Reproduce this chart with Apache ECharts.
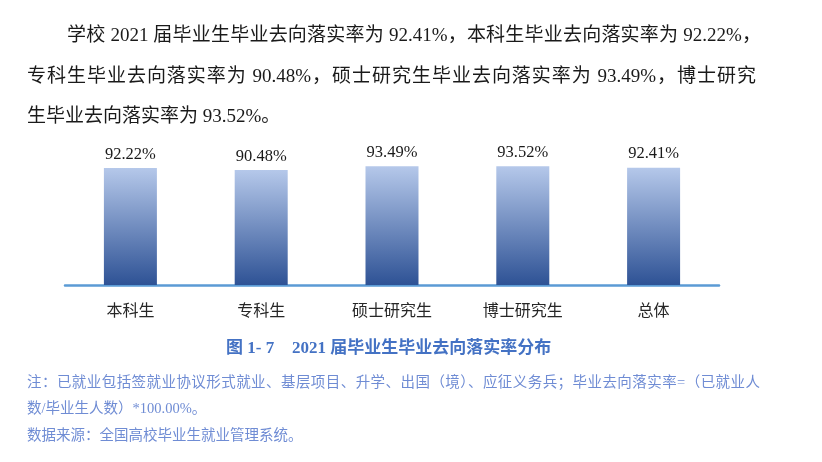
<!DOCTYPE html>
<html>
<head>
<meta charset="utf-8">
<script src="https://cdn.jsdelivr.net/npm/echarts@6/dist/echarts.min.js"></script>
<style>
  html, body { margin:0; padding:0; background:#fff; }
  #wrap { position:relative; width:822px; height:462px; overflow:hidden; }
  #chart { position:absolute; left:0; top:0; width:822px; height:462px; }
  .t { position:absolute; white-space:nowrap; }
  .para { font-family:"Liberation Serif","Noto Sans CJK SC",serif; font-size:19px; color:#1a1a1a; line-height:24px; }
  .just { text-align:justify; text-align-last:justify; }
  .cap { font-family:"Liberation Serif","Noto Sans CJK SC",serif; font-size:17px; font-weight:bold; color:#4472c4; line-height:20px; }
  .note { font-family:"Liberation Serif","Noto Sans CJK SC",serif; font-size:14.5px; color:#6f8cd4; line-height:18px; }
</style>
</head>
<body>
<div id="wrap">
  <div id="chart"></div>
  <div class="t para just" style="left:67px; top:23px; width:694px;">学校 2021 届毕业生毕业去向落实率为 92.41%，本科生毕业去向落实率为 92.22%，</div>
  <div class="t para just" style="left:27px; top:64px; width:729px;">专科生毕业去向落实率为 90.48%，硕士研究生毕业去向落实率为 93.49%，博士研究</div>
  <div class="t para" style="left:27px; top:104px;">生毕业去向落实率为 93.52%。</div>
  <div class="t cap" style="left:226px; top:338px;">图 1- 7</div>
  <div class="t cap" style="left:292px; top:338px;">2021 届毕业生毕业去向落实率分布</div>
  <div class="t note just" style="left:27px; top:373px; width:733px;">注：已就业包括签就业协议形式就业、基层项目、升学、出国（境）、应征义务兵；毕业去向落实率=（已就业人</div>
  <div class="t note" style="left:27px; top:399px;">数/毕业生人数）*100.00%。</div>
  <div class="t note" style="left:27px; top:426px;">数据来源：全国高校毕业生就业管理系统。</div>
</div>
<script>
var categories = ["本科生", "专科生", "硕士研究生", "博士研究生", "总体"];
var rates = [92.22, 90.48, 93.49, 93.52, 92.41];

var chart = echarts.init(document.getElementById('chart'), null, { renderer: 'canvas' });
chart.setOption({
  animation: false,
  grid: { left: 65, width: 654, top: 158, height: 127, containLabel: false },
  xAxis: {
    type: 'category',
    data: categories,
    axisLine: { show: true, lineStyle: { color: '#5b9bd5', width: 2.5 } },
    axisTick: { show: false },
    axisLabel: {
      margin: 17,
      fontSize: 16,
      color: '#262626',
      fontFamily: '"Noto Sans CJK SC", sans-serif'
    }
  },
  yAxis: {
    type: 'value',
    min: 0,
    max: 100,
    show: false,
    splitLine: { show: false }
  },
  series: [{
    type: 'bar',
    data: rates,
    barWidth: 53,
    itemStyle: {
      color: new echarts.graphic.LinearGradient(0, 0, 0, 1, [
        { offset: 0, color: '#b5c8ea' },
        { offset: 1, color: '#2e5295' }
      ])
    },
    label: {
      show: true,
      position: 'top',
      distance: 5,
      fontSize: 16.5,
      color: '#1a1a1a',
      fontFamily: '"Liberation Serif", serif',
      formatter: function (p) { return p.value.toFixed(2) + '%'; }
    }
  }]
});
</script>
</body>
</html>
